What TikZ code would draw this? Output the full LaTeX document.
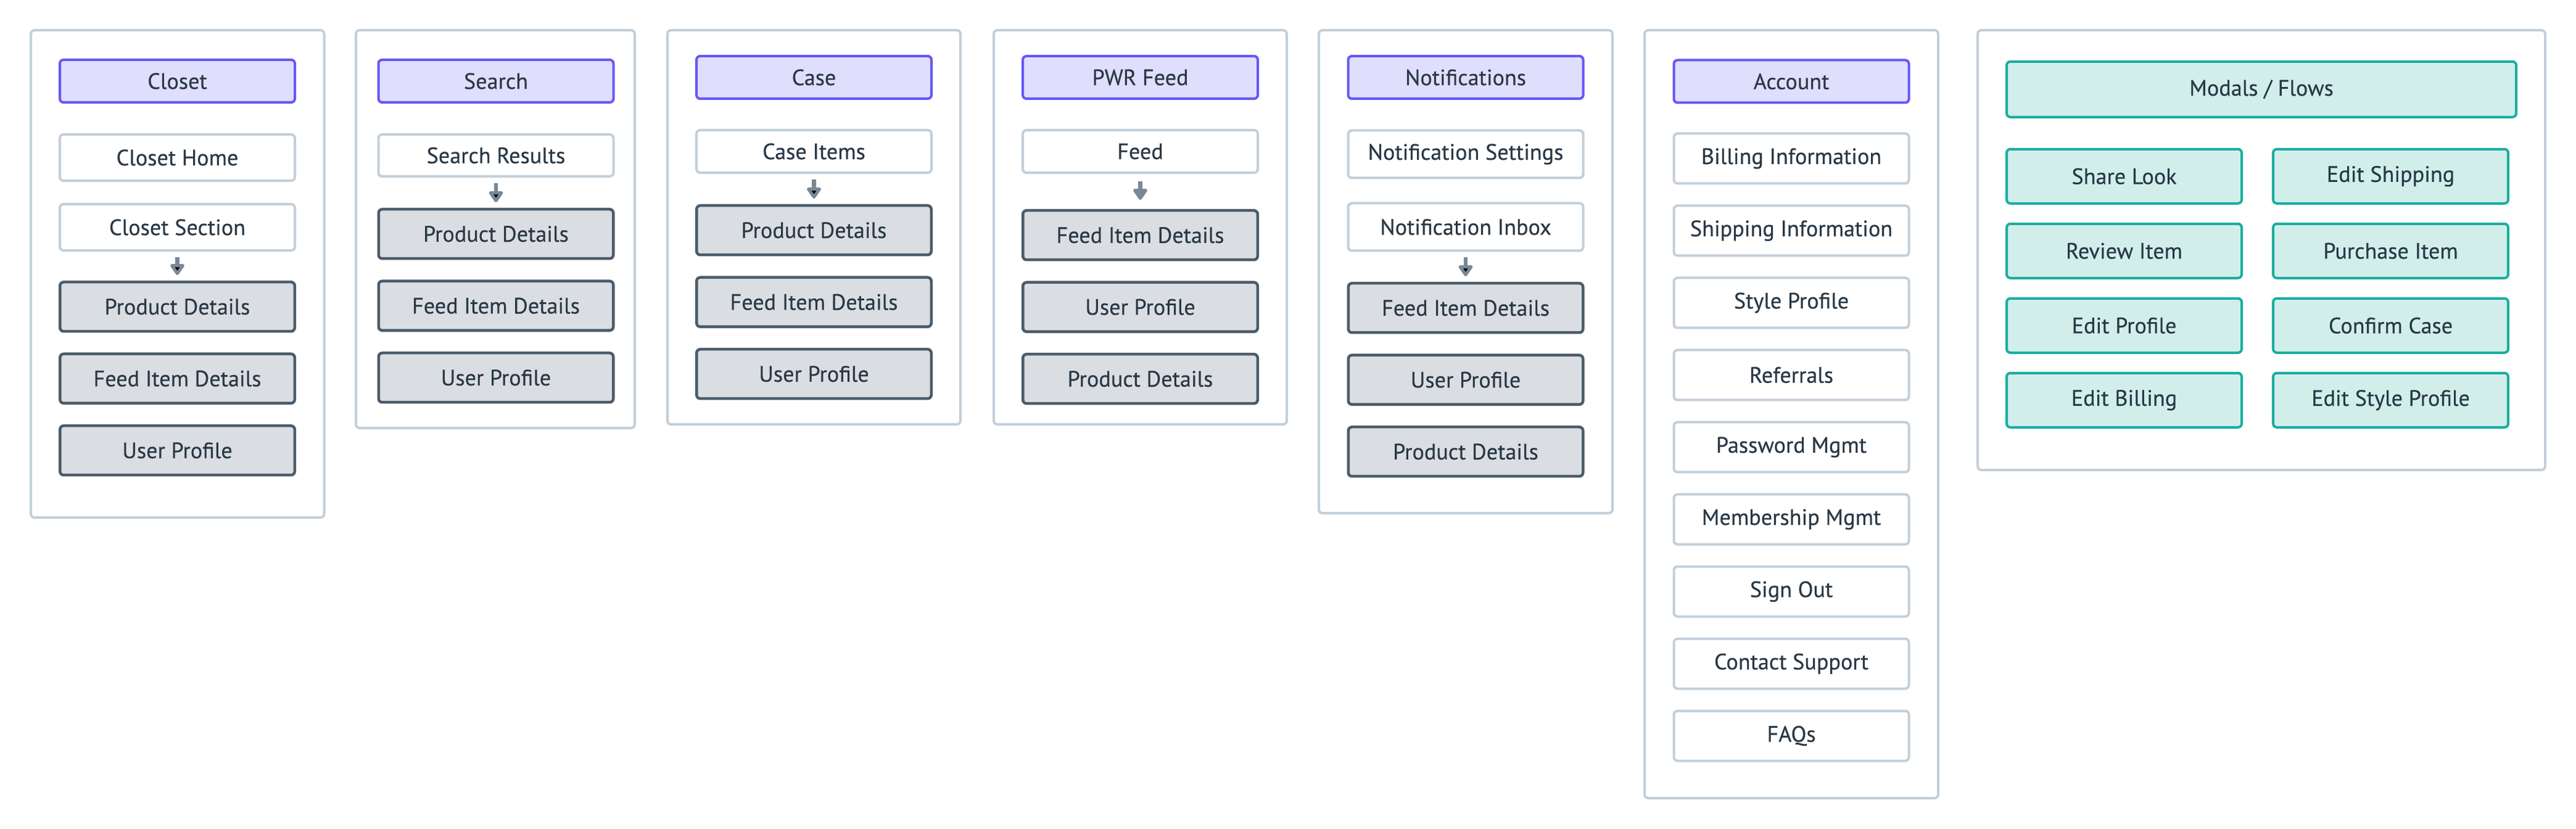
\documentclass[tikz,border=0pt]{standalone}
\usepackage{fontspec}
\setmainfont{PT Sans}
\newfontfamily\boxfont{PT Sans}[FakeBold=0.4]
\usepackage{xcolor}
\definecolor{rim}{HTML}{C3CFD9}
\definecolor{headline}{HTML}{6558F5}
\definecolor{headfill}{HTML}{E0DEFD}
\definecolor{slate}{HTML}{4B5C6B}
\definecolor{mist}{HTML}{DADEE2}
\definecolor{flowline}{HTML}{1AAE9F}
\definecolor{flowfill}{HTML}{D1EEEB}
\definecolor{arrowgray}{HTML}{788896}
\definecolor{ink}{HTML}{293845}
\usepackage{tikz}
\usetikzlibrary{positioning}
\usetikzlibrary{arrows.meta}

\begin{document}
\begin{tikzpicture}[x=1mm,y=-1mm,node distance=3.2mm,
	every node/.style={font=\boxfont\fontsize{10.3}{12}\selectfont,text=ink},
	header/.style={draw=headline,fill=headfill,line width=0.4mm,rounded corners=0.6mm,minimum width=38.1mm,minimum height=6.9mm},
	pagebox/.style={draw=rim,fill=white,line width=0.4mm,rounded corners=0.6mm,minimum width=38.1mm,minimum height=#1},
	pagebox/.default=8.1mm,
	linkbox/.style={draw=slate,fill=mist,line width=0.45mm,rounded corners=0.6mm,minimum width=38.05mm,minimum height=8mm},
	flowbox/.style={draw=flowline,fill=flowfill,line width=0.4mm,rounded corners=0.6mm,minimum width=38.1mm,minimum height=8.8mm},
	panel/.style={draw=rim,line width=0.4mm,rounded corners=0.6mm},
	flow/.style={-{Triangle[width=2.6mm,length=2mm,round]},draw=arrowgray,line width=0.65mm,shorten <=0.9mm,shorten >=0.9mm}]
	\useasboundingbox (0,0) rectangle (417.6,134.4);
	% panels
	\draw[panel] (5.0,4.9) rectangle (52.55,83.9);
	\draw[panel] (57.7,4.9) rectangle (102.9,69.4);
	\draw[panel] (108.2,4.9) rectangle (155.7,68.8);
	\draw[panel] (161.1,4.9) rectangle (208.6,68.8);
	\draw[panel] (213.8,4.9) rectangle (261.4,83.2);
	\draw[panel] (266.6,4.9) rectangle (314.2,129.4);
	\draw[panel] (320.6,4.9) rectangle (412.6,76.2);
	% closet
	\node[header] (C) at (28.75,13.15) {Closet};
	\node[pagebox=7.5mm] (C1) [below=4.8mm of C] {Closet Home};
	\node[pagebox=7.5mm] (C2) [below=3.4mm of C1] {Closet Section};
	\node[linkbox] (C3) [below=4.7mm of C2] {Product Details};
	\node[linkbox] (C4) [below=of C3] {Feed Item Details};
	\node[linkbox] (C5) [below=of C4] {User Profile};
	% search
	\node[header] (S) at (80.4,13.15) {Search};
	\node[pagebox=6.8mm] (S1) [below=4.8mm of S] {Search Results};
	\node[linkbox] (S2) [below=4.9mm of S1] {Product Details};
	\node[linkbox] (S3) [below=of S2] {Feed Item Details};
	\node[linkbox] (S4) [below=of S3] {User Profile};
	% case
	\node[header] (K) at (131.95,12.55) {Case};
	\node[pagebox=6.9mm] (K1) [below=4.7mm of K] {Case Items};
	\node[linkbox] (K2) [below=4.9mm of K1] {Product Details};
	\node[linkbox] (K3) [below=of K2] {Feed Item Details};
	\node[linkbox] (K4) [below=of K3] {User Profile};
	% pwr feed
	\node[header] (P) at (184.85,12.55) {PWR Feed};
	\node[pagebox=6.9mm] (P1) [below=4.7mm of P] {Feed};
	\node[linkbox] (P2) [below=5.7mm of P1] {Feed Item Details};
	\node[linkbox] (P3) [below=of P2] {User Profile};
	\node[linkbox] (P4) [below=of P3] {Product Details};
	% notifications
	\node[header] (N) at (237.6,12.55) {Notifications};
	\node[pagebox=7.7mm] (N1) [below=4.75mm of N] {Notification Settings};
	\node[pagebox=7.7mm] (N2) [below=3.7mm of N1] {Notification Inbox};
	\node[linkbox] (N3) [below=4.85mm of N2] {Feed Item Details};
	\node[linkbox] (N4) [below=of N3] {User Profile};
	\node[linkbox] (N5) [below=of N4] {Product Details};
	% account
	\node[header] (A) at (290.4,13.2) {Account};
	\node[pagebox] (A1) [below=4.6mm of A] {Billing Information};
	\node[pagebox] (A2) [below=of A1] {Shipping Information};
	\node[pagebox] (A3) [below=of A2] {Style Profile};
	\node[pagebox] (A4) [below=of A3] {Referrals};
	\node[pagebox] (A5) [below=of A4] {Password Mgmt};
	\node[pagebox] (A6) [below=of A5] {Membership Mgmt};
	\node[pagebox] (A7) [below=of A6] {Sign Out};
	\node[pagebox] (A8) [below=of A7] {Contact Support};
	\node[pagebox] (A9) [below=of A8] {FAQs};
	% modals / flows
	\node[flowbox,minimum width=82.6mm,minimum height=9mm] (M) at (366.6,14.48) {Modals / Flows};
	\node[flowbox] (M1) [below=4.8mm of M.south west,anchor=north west] {Share Look};
	\node[flowbox] (M2) [right=4.7mm of M1] {Edit Shipping};
	\node[flowbox] (M3) [below=2.9mm of M1] {Review Item};
	\node[flowbox] (M4) [right=4.7mm of M3] {Purchase Item};
	\node[flowbox] (M5) [below=2.9mm of M3] {Edit Profile};
	\node[flowbox] (M6) [right=4.7mm of M5] {Confirm Case};
	\node[flowbox] (M7) [below=2.9mm of M5] {Edit Billing};
	\node[flowbox] (M8) [right=4.7mm of M7] {Edit Style Profile};
	\path[flow]
		(C2) edge (C3)
		(S1) edge (S2)
		(K1) edge (K2)
		(N2) edge (N3);
	\draw[flow,shorten <=1.25mm,shorten >=1.5mm] (P1) -- (P2);
\end{tikzpicture}
\end{document}
